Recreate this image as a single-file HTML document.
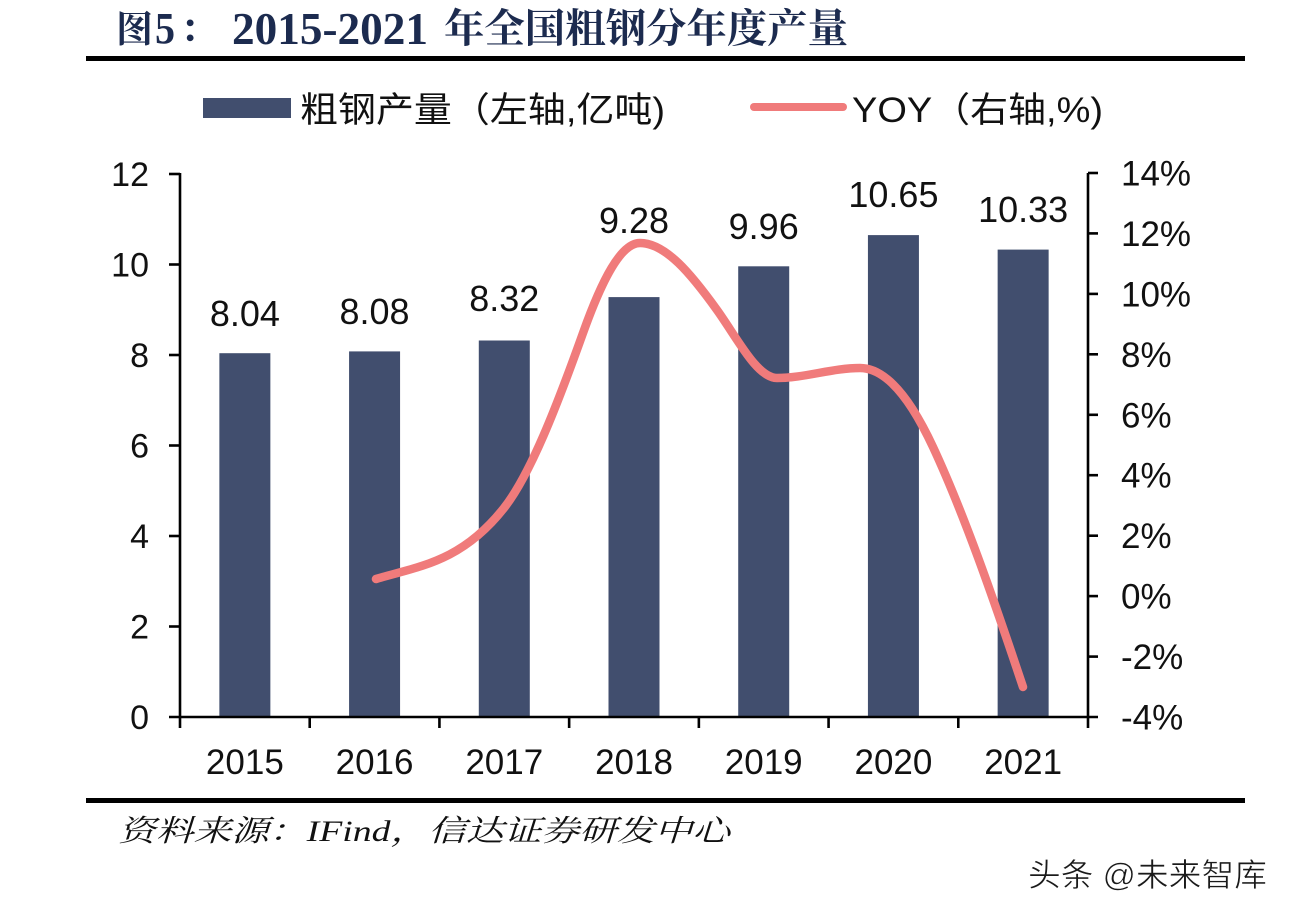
<!DOCTYPE html>
<html>
<head>
<meta charset="utf-8">
<style>
html,body{margin:0;padding:0;background:#fff;}
svg{display:block;}
</style>
</head>
<body>
<svg width="1292" height="914" viewBox="0 0 1292 914" xmlns="http://www.w3.org/2000/svg">
<rect width="1292" height="914" fill="#ffffff"/>

<!-- Title -->
<g font-family="'Liberation Serif','Noto Serif CJK SC',serif" font-weight="bold" fill="#1c2b4f">
  <text x="116" y="42" font-size="37">图</text>
  <text x="155" y="43" font-size="44" textLength="20" lengthAdjust="spacingAndGlyphs">5</text>
  <text x="180" y="42" font-size="38">：</text>
  <text x="232" y="44" font-size="45" textLength="196" lengthAdjust="spacingAndGlyphs">2015-2021</text>
  <text x="444" y="42" font-size="40" textLength="404" lengthAdjust="spacingAndGlyphs">年全国粗钢分年度产量</text>
</g>
<rect x="86" y="56" width="1159" height="5" fill="#000"/>

<!-- Legend -->
<rect x="203" y="98" width="88" height="20" fill="#414e6e"/>
<text x="300" y="122" font-family="'Liberation Sans','Noto Sans CJK SC',sans-serif" font-size="35" fill="#111" textLength="365" lengthAdjust="spacingAndGlyphs">粗钢产量（左轴,亿吨)</text>
<line x1="754" y1="107" x2="843" y2="107" stroke="#f07b7b" stroke-width="8" stroke-linecap="round"/>
<text x="852" y="122" font-family="'Liberation Sans','Noto Sans CJK SC',sans-serif" font-size="35" fill="#111" textLength="251" lengthAdjust="spacingAndGlyphs">YOY（右轴,%)</text>

<!-- Bars -->
<g fill="#414e6e">
  <rect x="219.36" y="353.2" width="51" height="363.8"/>
  <rect x="349.07" y="351.4" width="51" height="365.6"/>
  <rect x="478.79" y="340.5" width="51" height="376.5"/>
  <rect x="608.5" y="297.1" width="51" height="419.9"/>
  <rect x="738.21" y="266.3" width="51" height="450.7"/>
  <rect x="867.93" y="235.1" width="51" height="481.9"/>
  <rect x="997.64" y="249.6" width="51" height="467.4"/>
</g>

<!-- Data labels -->
<g font-family="'Liberation Sans',sans-serif" font-size="36" fill="#111" text-anchor="middle">
  <text x="244.86" y="326">8.04</text>
  <text x="374.57" y="324">8.08</text>
  <text x="504.29" y="311">8.32</text>
  <text x="634" y="233">9.28</text>
  <text x="763.71" y="239">9.96</text>
  <text x="893.43" y="207">10.65</text>
  <text x="1023.14" y="222">10.33</text>
</g>

<!-- YOY line -->
<path d="M376,579 C418.7,566.2 461.3,562.2 504,508 C530.3,474.6 556.7,406.6 583,333 C602,279.8 621,243 640,243 C665.7,243 691.3,274.3 717,310 C737,337.8 757,378 777,378 C804.7,378 832.3,368 860,368 C884.3,368 908.7,394.8 933,447 C963,511.5 993,597 1023,687"
 fill="none" stroke="#f07b7b" stroke-width="8.5" stroke-linecap="round" stroke-linejoin="round"/>

<!-- Axes -->
<g stroke="#000" stroke-width="2.6" fill="none">
  <line x1="180" y1="173" x2="180" y2="728"/>
  <line x1="1088" y1="173" x2="1088" y2="728"/>
  <line x1="169" y1="717" x2="1098" y2="717"/>
  <line x1="169" y1="174" x2="180" y2="174"/>
  <line x1="169" y1="264.5" x2="180" y2="264.5"/>
  <line x1="169" y1="355" x2="180" y2="355"/>
  <line x1="169" y1="445.5" x2="180" y2="445.5"/>
  <line x1="169" y1="536" x2="180" y2="536"/>
  <line x1="169" y1="626.5" x2="180" y2="626.5"/>
  <line x1="1088" y1="173" x2="1098" y2="173"/>
  <line x1="1088" y1="233.4" x2="1098" y2="233.4"/>
  <line x1="1088" y1="293.9" x2="1098" y2="293.9"/>
  <line x1="1088" y1="354.3" x2="1098" y2="354.3"/>
  <line x1="1088" y1="414.8" x2="1098" y2="414.8"/>
  <line x1="1088" y1="475.2" x2="1098" y2="475.2"/>
  <line x1="1088" y1="535.7" x2="1098" y2="535.7"/>
  <line x1="1088" y1="596.1" x2="1098" y2="596.1"/>
  <line x1="1088" y1="656.6" x2="1098" y2="656.6"/>
  <line x1="309.71" y1="717" x2="309.71" y2="728"/>
  <line x1="439.43" y1="717" x2="439.43" y2="728"/>
  <line x1="569.14" y1="717" x2="569.14" y2="728"/>
  <line x1="698.86" y1="717" x2="698.86" y2="728"/>
  <line x1="828.57" y1="717" x2="828.57" y2="728"/>
  <line x1="958.29" y1="717" x2="958.29" y2="728"/>
</g>

<!-- Left axis labels -->
<g font-family="'Liberation Sans',sans-serif" font-size="34" fill="#111" text-anchor="end">
  <text x="149" y="186">12</text>
  <text x="149" y="276.5">10</text>
  <text x="149" y="367">8</text>
  <text x="149" y="457.5">6</text>
  <text x="149" y="548">4</text>
  <text x="149" y="638.5">2</text>
  <text x="149" y="729">0</text>
</g>

<!-- Right axis labels -->
<g font-family="'Liberation Sans',sans-serif" font-size="35" fill="#111" text-anchor="start">
  <text x="1121" y="185.5">14%</text>
  <text x="1121" y="245.9">12%</text>
  <text x="1121" y="306.4">10%</text>
  <text x="1121" y="366.8">8%</text>
  <text x="1121" y="427.3">6%</text>
  <text x="1121" y="487.7">4%</text>
  <text x="1121" y="548.2">2%</text>
  <text x="1121" y="608.6">0%</text>
  <text x="1121" y="669.1">-2%</text>
  <text x="1121" y="729.5">-4%</text>
</g>

<!-- X labels -->
<g font-family="'Liberation Sans',sans-serif" font-size="35" fill="#111" text-anchor="middle">
  <text x="244.86" y="774">2015</text>
  <text x="374.57" y="774">2016</text>
  <text x="504.29" y="774">2017</text>
  <text x="634" y="774">2018</text>
  <text x="763.71" y="774">2019</text>
  <text x="893.43" y="774">2020</text>
  <text x="1023.14" y="774">2021</text>
</g>

<!-- Bottom rule -->
<rect x="86" y="798" width="1159" height="5" fill="#000"/>

<!-- Source -->
<text x="118" y="841" font-family="'Liberation Serif','Noto Serif CJK SC',serif" font-style="italic" font-size="30" fill="#111" textLength="612" lengthAdjust="spacingAndGlyphs">资料来源：IFind，信达证券研发中心</text>

<!-- Watermark -->
<text x="1028" y="886" font-family="'Liberation Sans','Noto Sans CJK SC',sans-serif" font-size="32" fill="#1a1a1a" stroke="#ffffff" stroke-width="0.6" textLength="239" lengthAdjust="spacingAndGlyphs">头条 @未来智库</text>
</svg>
</body>
</html>
